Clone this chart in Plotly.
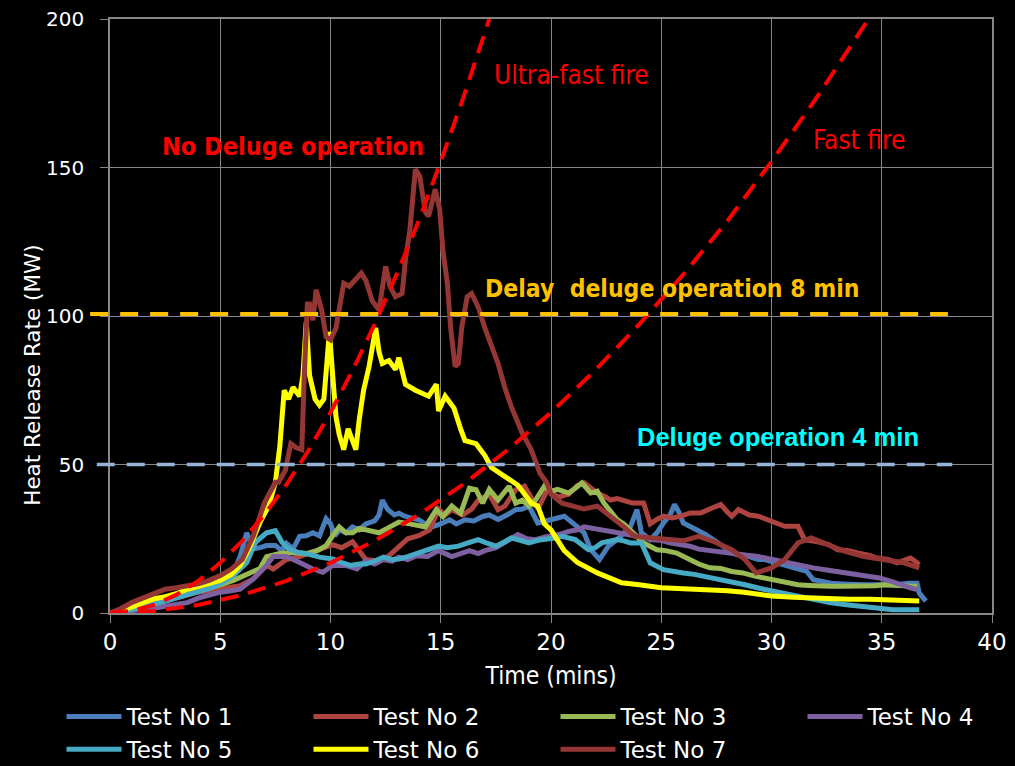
import plotly.graph_objects as go

# ---------------- data ----------------
t1 = [0,0.5,1,1.5,2,2.5,3,3.5,4,4.5,5,5.3,5.6,5.9,6.2,6.5,6.8,7.1,7.5,7.8,8.0,8.3,8.6,8.9,9.2,9.5,9.8,10.0,10.2,10.4,10.7,11.0,11.3,11.6,12.0,12.2,12.35,12.6,12.9,13.1,13.4,13.7,14.0,14.3,14.6,15.0,15.4,15.7,16.1,16.5,16.9,17.2,17.6,18.0,18.4,18.7,19.0,19.4,19.7,20.0,20.3,20.6,20.9,21.2,21.5,21.8,22.2,22.6,23.0,23.3,23.6,23.9,24.1,24.5,24.8,25.1,25.4,25.6,25.8,26.0,26.3,26.6,27.0,27.4,27.8,28.2,28.5,29.0,29.4,29.7,30.2,30.6,30.9,31.3,31.6,31.9,32.3,32.7,33.2,33.7,34.2,34.7,35.2,35.7,36.2,36.6,36.7,37.0]
v1 = [0,0.7,1.5,2.2,3,4,5,6.2,7.5,8.5,10,11.5,13.7,19,27,21.6,22,22.7,22.7,21,23.5,21.6,25.8,26,27,26,31.7,30,26,28,27,29,28,30,31,33,38,34.8,33,33.6,32.5,32,31.4,30,29,30,31.4,30,31.4,31,32.5,33,31.5,33,34.8,35,36,30.3,31,31.5,32,32.6,31,29,27,21.3,18,22.5,24.7,27,29,34.8,27,24.7,27,30.3,33,36.5,34,30.3,29,28,26.5,24.7,22.5,20.2,19.5,19,18,18,17,16,15.7,14.5,14,11.2,10.5,10,9.8,9.5,9.5,9.5,9.5,9.5,10,10,6.7,4]

t2 = [0,0.5,1,1.5,2,2.5,3,3.5,4,4.5,5,5.5,5.9,6.5,7.1,7.4,8.0,8.6,9.0,9.5,10.1,10.5,11.0,11.3,11.6,12.1,12.6,13.0,13.5,14.0,14.5,14.9,15.2,15.5,16.0,16.4,16.7,17.2,17.6,17.9,18.4,18.8,19.1,19.4,19.85,20.3,20.8,21.2,21.5,21.8,22.1,22.5,22.7,23.0,23.3,23.7,24.2,24.5,24.8,25.1,25.5,25.9,26.3,26.8,27.2,27.7,28.0,28.2,28.5,29.0,29.4,30.0,30.6,31.2,31.5,32.1,32.6,33.0,33.5,33.9,34.4,34.8,35.3,35.7,36.0,36.3,36.5,36.7]
v2 = [0,0.6,1.3,2,3,4,5,6,7,7.5,8,8.6,9.2,11.5,16,14.8,18,19,20,21.5,23,22,24,21,18,17.6,19,21.6,25,26,28,35,33,34.8,33,35,38,40,34.8,36,41.5,42.7,39,35,41.6,39,40,43,43.8,42,40.4,39,38,38.5,38,37,37,30,31.5,32.6,32,32.6,33.7,33.7,35,36.5,34,32.6,34.8,33,32.6,31,29.2,29.2,24.7,24,23,21.3,21,20.2,19.5,18.5,18,16.9,17.5,18.5,17.5,16.3]

t3 = [0,0.5,1,1.5,2,2.5,3,3.5,4,4.5,5,5.6,6.2,6.8,7.1,7.7,8.3,8.9,9.4,9.8,10.1,10.4,10.7,11.0,11.3,11.6,12.2,12.7,13.1,13.6,14.0,14.3,14.8,15.1,15.5,15.9,16.3,16.6,16.9,17.2,17.6,18.1,18.4,18.7,19.0,19.3,19.7,20.0,20.3,20.8,21.1,21.4,21.8,22.1,22.4,22.7,23.0,23.3,23.6,23.9,24.2,24.8,25.2,25.7,26.3,26.7,27.2,27.7,28.2,28.7,29.2,29.7,30.2,30.7,31.2,31.7,32.2,32.7,33.2,33.7,34.2,34.7,35.1,35.5,36.0,36.3,36.6]
v3 = [0,0.6,1.4,2.2,3.2,4.2,5.2,6.4,7.5,8.5,9.5,11,13,15,19,20,20.4,20,21,22.7,26,29,27,27,28.5,28,27,29,30.6,30,29.4,29,34.8,32.5,36,33.6,42,41.5,37,41.6,38,42.7,37,38,36,38,42.7,41,41.6,40.4,42,43.8,40.4,41,37,34,31.5,30,28,26,23.6,21.3,21,20.2,18,16.5,15.2,15,14,13.5,12.5,11.8,11,10.5,9.5,9.3,9,9,9,9,9,9.2,9.5,9.5,9.2,9,9]

t4 = [0,0.5,1,1.5,2,2.5,3,3.5,4,4.5,5,5.5,5.9,6.5,7.1,7.4,8.0,8.6,9.2,9.65,10.1,10.7,11.2,11.6,12.0,12.4,12.8,13.1,13.5,13.9,14.4,14.9,15.5,15.9,16.3,16.7,17.0,17.5,17.9,18.5,18.9,19.3,19.7,20.0,20.4,20.8,21.2,21.5,21.9,22.3,22.7,23.0,23.4,23.8,24.2,24.5,25.0,25.4,25.9,26.3,26.7,27.2,27.7,28.2,28.8,29.4,30.0,30.4,31.0,31.5,31.9,32.5,33.0,33.4,34.0,34.5,34.9,35.5,36.0,36.3,36.6]
v4 = [0,0.3,0.7,1.1,1.6,2.3,3,3.5,5,6,7,7.5,8,11.5,16,19,19,17,14.8,13.7,16,16,14.8,17.6,16.5,18,17.5,18.8,18,19.3,19,21,19,20,21,20,21,22,23.6,26.4,25,24.7,25.5,25.8,26.5,27.5,28,29,28.5,28,27.5,27,26.5,25.8,25.5,24.7,24.5,23.6,23,22.5,21.5,21,20.5,19.7,19.5,19,18,17.4,16.5,15.8,15.2,14.5,14,13.5,12.8,12.2,11.8,10.5,9,8.5,7.9]

t5 = [0,0.5,1,1.5,2,2.5,3,3.5,4,4.5,5,5.6,6.2,6.6,7.1,7.5,7.8,8.1,8.5,8.9,9.5,10.1,10.5,10.9,11.3,11.6,12.0,12.4,12.8,13.1,13.5,13.9,14.5,14.9,15.3,15.8,16.2,16.7,17.1,17.5,17.9,18.2,18.6,19.0,19.4,19.7,20.1,20.5,21.1,21.7,22.0,22.3,22.7,23.0,23.3,23.6,24.1,24.5,25.1,25.5,26.0,26.5,26.9,27.4,28.2,28.8,29.7,30.4,31.2,31.9,32.7,33.4,34.2,34.9,35.5,36.2,36.7]
v5 = [0,0.5,1.2,2,3,4,5.2,6,7,8.2,9.8,12.6,17,23.8,27,27.7,23.8,21.6,20.5,20,18.8,18.2,17,16,16.5,16.5,17.5,18.8,18,18.2,19,20,21.6,22.5,22,22.5,23.5,24.7,23.5,22.5,24,25.3,24.5,23.6,24.5,24.7,25.2,25.8,24.7,21.3,22,23.6,24,24.7,24.3,23.6,23.6,16.9,14.6,14,13.5,13,12.4,12,10.5,9.5,7.9,6.8,5.6,4.6,3.4,2.8,2.2,1.5,1.1,1.1,1.1]

t6 = [0,0.5,1,1.5,2,2.5,3,3.5,4,4.5,5,5.5,5.9,6.3,6.8,7.2,7.5,7.7,7.9,8.1,8.3,8.6,8.75,8.9,9.05,9.3,9.5,9.7,9.95,10.1,10.25,10.4,10.6,10.8,11.0,11.15,11.3,11.5,11.75,12.05,12.2,12.35,12.65,12.95,13.1,13.4,13.85,14.1,14.45,14.8,14.9,15.2,15.6,15.9,16.1,16.6,17.0,17.3,17.9,18.5,19.1,19.4,19.7,20.0,20.6,21.2,22.1,23.2,24.0,25.0,26.0,27.0,28.0,28.75,30.0,31.0,32.2,33.5,34.5,35.5,36.7]
v6 = [0,1,2,3.5,4.8,5.5,6.5,8,9,9.8,11,13,16,21.6,30.5,36,44,56,75,72,76,73,80,98,80,72,70,72,94.6,80,66,60,55,62,58,55,65,75,83,96,88,84,85,82,86,77,75,74,73,77,68,73,69,62,58,57,53,49,46,43,37,36,30,28,21,17,13.5,10.2,9.5,8.5,8.2,8,7.5,7,5.7,5.3,4.8,4.6,4.6,4.2,4]

t7 = [0,0.5,1,1.5,2,2.5,3,3.5,4,4.5,5,5.5,6.0,6.5,7.0,7.5,7.65,7.95,8.2,8.45,8.7,8.8,8.95,9.05,9.2,9.35,9.6,9.8,10.0,10.25,10.4,10.6,10.85,11.1,11.4,11.6,11.9,12.2,12.5,12.7,12.95,13.25,13.4,13.6,13.85,14.05,14.3,14.45,14.75,14.95,15.1,15.3,15.45,15.65,15.8,15.95,16.2,16.4,16.7,17.0,17.3,17.6,17.9,18.2,18.7,19.1,19.5,19.8,20.0,20.5,21.0,21.5,22.1,22.7,23.3,23.8,24.5,25.4,26.0,26.7,27.4,28.2,28.8,29.3,30.0,30.6,31.2,31.8,32.4,33.3,34.2,35.1,36.0,36.7]
v7 = [0,1.5,3.6,5,6.5,8,8.5,9.2,9.8,11,12.6,14.8,18,26,37,44,44,48,57,55.6,55,78,104,104,98.6,108.8,102,93,92,96,102,111,110,112,114.4,112,105,102,116.7,110,106.5,107.6,119,129,149.4,147,135,133.6,142.7,136,122,111,96,83,84,96,106.5,107.6,103,96,90,84,76,69.5,60.5,55,47,44,40,37,36,35,36,32.6,29,25.8,25.3,24.7,24.3,25.8,24,21.3,18,13.5,15.2,18,23.6,25.3,23.6,20.8,19,18,16.9,15.2]

# t-squared design fire curves
t_ultra = [0,1,2,3,4,5,6,7,8,9,10,11,12,13,14,15,16,17,17.2]
v_ultra = [0,0.7,2.7,6.1,10.8,16.9,24.3,33.1,43.2,54.7,67.5,81.7,97.2,114,132,152,173,195,200]
t_fast = [0,2,4,6,8,10,12,14,16,18,20,22,24,26,28,30,32,34,34.4]
v_fast = [0,0.7,2.7,6.1,10.8,16.9,24.3,33.1,43.2,54.7,67.5,81.7,97.2,114,132,152,173,195,200]

# deluge threshold lines: (level MW, start min, end min)
delay_level, delay_x0, delay_x1 = 100.7, -0.9, 38.0
deluge_level, deluge_x0, deluge_x1 = 50.0, -0.6, 38.2

series_names = ["Test No 1", "Test No 2", "Test No 3", "Test No 4", "Test No 5", "Test No 6", "Test No 7"]
series_t = [t1, t2, t3, t4, t5, t6, t7]
series_v = [v1, v2, v3, v4, v5, v6, v7]
series_colors = ["#4A7EBB", "#AE4440", "#98B954", "#7D60A0", "#46AAC5", "#FFFF00", "#943634"]

XMIN, XMAX = 0, 40
YMIN, YMAX = 0, 200

COND = "DejaVu Sans Condensed, DejaVu Sans, sans-serif"
WIDE = "DejaVu Sans, Verdana, sans-serif"
ARIAL = "Liberation Sans, Arial, sans-serif"

fig = go.Figure()
for name, tt, vv, col in zip(series_names, series_t, series_v, series_colors):
    fig.add_trace(go.Scatter(x=tt, y=vv, name=name, mode="lines",
                             line=dict(color=col, width=5)))

fig.add_trace(go.Scatter(x=t_ultra, y=v_ultra, mode="lines", showlegend=False,
                         line=dict(color="#FF0000", width=4, dash="18px,10px"), hoverinfo="skip"))
fig.add_trace(go.Scatter(x=t_fast, y=v_fast, mode="lines", showlegend=False,
                         line=dict(color="#FF0000", width=4, dash="18px,10px"), hoverinfo="skip"))

def xpaper(x):
    return (x - XMIN) / (XMAX - XMIN)

fig.add_shape(type="line", xref="paper", yref="y", x0=xpaper(delay_x0), x1=xpaper(delay_x1),
              y0=delay_level, y1=delay_level, line=dict(color="#FFC000", width=4, dash="18px,12px"))
fig.add_shape(type="line", xref="paper", yref="y", x0=xpaper(deluge_x0), x1=xpaper(deluge_x1),
              y0=deluge_level, y1=deluge_level, line=dict(color="#95B3D7", width=3.5, dash="18px,12px"))

ann = [
    dict(x=8.3, y=157, text="<b>No Deluge operation</b>", font=dict(family=COND, size=25, color="#FF0000")),
    dict(x=20.95, y=181, text="Ultra-fast fire", font=dict(family=COND, size=26, color="#FF0000")),
    dict(x=33.97, y=159.3, text="Fast fire", font=dict(family=COND, size=26, color="#FF0000")),
    dict(x=25.5, y=109.2, text="<b>Delay  deluge operation 8 min</b>", font=dict(family=COND, size=24.5, color="#FFC000")),
    dict(x=30.3, y=59.2, text="<b>Deluge operation 4 min</b>", font=dict(family=ARIAL, size=25.5, color="#00FFFF")),
]
for a in ann:
    fig.add_annotation(xref="x", yref="y", showarrow=False, xanchor="center", yanchor="middle", **a)

# y-axis title as rotated text
fig.add_annotation(xref="paper", yref="paper", x=-0.088, y=0.40, text="Heat Release Rate (MW)",
                   textangle=-90, showarrow=False, xanchor="center", yanchor="middle",
                   font=dict(family=WIDE, size=21.5, color="#FFFFFF"))

fig.update_layout(
    width=1015, height=766,
    margin=dict(l=110, r=23, t=19, b=153, autoexpand=False),
    paper_bgcolor="#000000", plot_bgcolor="#000000",
    showlegend=True,
    legend=dict(orientation="h", x=-0.055, xanchor="left", y=-0.138, yanchor="top",
                font=dict(family=WIDE, size=23, color="#FFFFFF"),
                entrywidth=177, entrywidthmode="pixels", itemwidth=55,
                bgcolor="rgba(0,0,0,0)", tracegroupgap=0),
    xaxis=dict(range=[XMIN, XMAX], dtick=5, tick0=0, showgrid=True, gridcolor="#868686", gridwidth=1,
               showline=True, linecolor="#868686", linewidth=1.5, mirror=True,
               ticks="outside", ticklen=8, tickcolor="#868686", zeroline=False,
               tickfont=dict(family=WIDE, size=23, color="#FFFFFF"),
               title=dict(text="Time (mins)", font=dict(family=COND, size=24.5, color="#FFFFFF"), standoff=13)),
    yaxis=dict(range=[YMIN, YMAX], dtick=50, tick0=0, showgrid=True, gridcolor="#868686", gridwidth=1,
               showline=True, linecolor="#868686", linewidth=1.5, mirror=True,
               ticks="outside", ticklen=8, tickcolor="#868686", zeroline=False,
               ticklabelstandoff=12,
               tickfont=dict(family=WIDE, size=20, color="#FFFFFF")),
)

fig.write_html("out.html")
